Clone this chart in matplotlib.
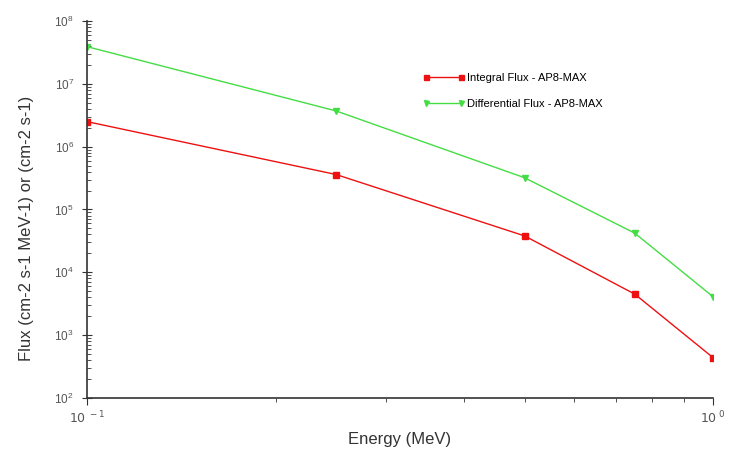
import matplotlib.pyplot as plt
from matplotlib.ticker import LogLocator, NullFormatter

plt.rcParams['font.family'] = ['Liberation Sans', 'DejaVu Sans']

energy = [0.1, 0.25, 0.5, 0.75, 1.0]
integral_flux = [2.5e6, 3.6e5, 3.8e4, 4.5e3, 4.4e2]
differential_flux = [3.9e7, 3.7e6, 3.2e5, 4.2e4, 4.1e3]
y_ticks = [1e2, 1e3, 1e4, 1e5, 1e6, 1e7, 1e8]

fig = plt.figure(figsize=(7.32, 4.51), dpi=100)
ax = fig.add_axes([0.119, 0.1175, 0.855, 0.836])

ax.plot(energy, integral_flux, color='#ee1111', lw=1, marker='s', ms=4,
        label='Integral Flux - AP8-MAX')
ax.plot(energy, differential_flux, color='#44dd44', lw=1, marker='v', ms=4,
        label='Differential Flux - AP8-MAX')

ax.set_xscale('log')
ax.set_yscale('log')
ax.set_xlim(0.1, 1.0)
ax.set_ylim(1e2, 1e8)

for s in ['top', 'right']:
    ax.spines[s].set_visible(False)
for s in ['left', 'bottom']:
    ax.spines[s].set_color('#333333')
    ax.spines[s].set_linewidth(1.2)

ax.set_xticks([0.1, 1.0])
ax.set_xticklabels(['$10^{\\ -1}$', '$10^{\\ 0}$'])
ax.xaxis.set_minor_locator(LogLocator(base=10, subs=range(2, 10)))
ax.xaxis.set_minor_formatter(NullFormatter())
ax.set_yticks(y_ticks)
ax.yaxis.set_minor_locator(LogLocator(base=10, subs=range(2, 10), numticks=10))
ax.yaxis.set_minor_formatter(NullFormatter())

ax.tick_params(axis='y', which='major', direction='inout', length=7, labelsize=8.5,
               labelcolor='#555555', color='#333333', pad=6)
ax.tick_params(axis='y', which='minor', direction='in', length=3, color='#333333')
ax.tick_params(axis='x', which='major', direction='out', length=5, labelsize=9,
               labelcolor='#555555', color='#333333')
ax.tick_params(axis='x', which='minor', direction='out', length=3, color='#333333')

ax.set_xlabel('Energy (MeV)', fontsize=12, color='#333333', labelpad=4)
ax.set_ylabel('Flux (cm-2 s-1 MeV-1) or (cm-2 s-1)', fontsize=12, color='#333333')
ax.yaxis.set_label_coords(-0.085, 0.45)

ax.legend(loc='upper left', bbox_to_anchor=(0.52, 0.888), frameon=False, fontsize=8,
          handlelength=3.8, numpoints=2, markerscale=0.9, handletextpad=0.2,
          labelspacing=1.4)

fig.savefig('out.png', dpi=100)
